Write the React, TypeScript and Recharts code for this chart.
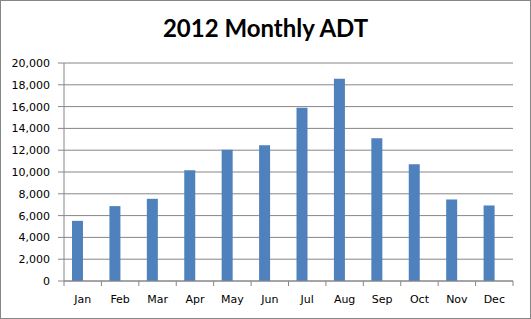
import React from 'react';
import { BarChart, Bar, XAxis, YAxis, CartesianGrid } from 'recharts';

const months = ['Jan', 'Feb', 'Mar', 'Apr', 'May', 'Jun', 'Jul', 'Aug', 'Sep', 'Oct', 'Nov', 'Dec'];
const adt = [5520, 6870, 7540, 10150, 12050, 12450, 15900, 18550, 13100, 10700, 7480, 6930];
const yTicks = [0, 2000, 4000, 6000, 8000, 10000, 12000, 14000, 16000, 18000, 20000];

const chartData = months.map((m, i) => ({ month: m, adt: adt[i], blank: null }));

const W = 531;
const H = 319;
const M = { top: 63, right: 18, bottom: 0, left: 0 };
const Y_AXIS_W = 64;
const X_AXIS_H = 38;
const AXIS_COLOR = '#868686';
const TITLE_FONT = 'Lato, "Open Sans", sans-serif';
const TICK_FONT = '"DejaVu Sans", Verdana, sans-serif';
const bandWidth = (W - M.left - M.right - Y_AXIS_W) / months.length;

const MonthTick = (props: any) => {
  const { x, y, payload, index } = props;
  const half = bandWidth / 2;
  return (
    <g>
      {index === 0 && <line x1={x - half} x2={x - half} y1={y - 8} y2={y - 3} stroke={AXIS_COLOR} />}
      <line x1={x + half} x2={x + half} y1={y - 8} y2={y - 3} stroke={AXIS_COLOR} />
      <text x={x} y={y + 14} textAnchor="middle" fontSize={11} fill="#000" fontFamily={TICK_FONT}>
        {payload.value}
      </text>
    </g>
  );
};

export default function App() {
  return (
    <div
      style={{
        position: 'absolute',
        left: 0,
        top: 0,
        width: W - 2,
        height: H - 2,
        border: `1px solid ${AXIS_COLOR}`,
        background: '#fff',
      }}
    >
      <div
        style={{
          position: 'absolute',
          left: 0,
          right: 0,
          top: 12,
          textAlign: 'center',
          fontFamily: TITLE_FONT,
          fontWeight: 700,
          fontSize: 24,
          color: '#000',
        }}
      >
        2012 Monthly ADT
      </div>
      <div style={{ position: 'absolute', left: -1, top: -1 }}>
        <BarChart
          width={W}
          height={H}
          data={chartData}
          margin={M}
          barCategoryGap="21.4%"
          barGap={0}
        >
          <CartesianGrid vertical={false} stroke={AXIS_COLOR} />
          <XAxis
            dataKey="month"
            height={X_AXIS_H}
            stroke={AXIS_COLOR}
            tickLine={false}
            tick={<MonthTick />}
            interval={0}
          />
          <YAxis
            width={Y_AXIS_W}
            domain={[0, 20000]}
            ticks={yTicks}
            interval={0}
            stroke={AXIS_COLOR}
            tickSize={6}
            tickMargin={8}
            tick={{ fontSize: 11, fill: '#000', fontFamily: TICK_FONT }}
            tickFormatter={(v: number) => v.toLocaleString('en-US')}
          />
          <Bar dataKey="adt" fill="#4F81BD" isAnimationActive={false} />
          <Bar dataKey="blank" fill="#C0504D" isAnimationActive={false} />
        </BarChart>
      </div>
    </div>
  );
}
